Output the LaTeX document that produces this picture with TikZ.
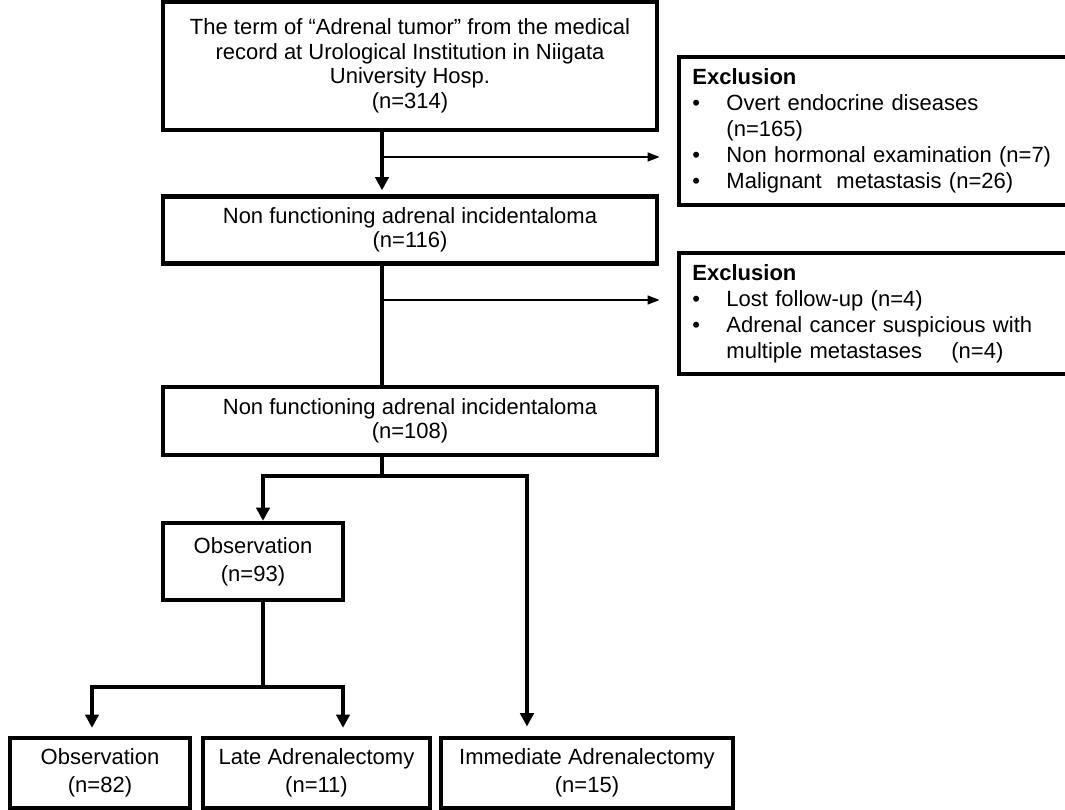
\documentclass[tikz,border=0pt]{standalone}
\usepackage{fontspec}
\setmainfont{Liberation Sans}
\usetikzlibrary{arrows.meta}
\def\pxu{0.75pt}
\tikzset{
  flowbox/.style={draw, line width=3.2pt, align=center, inner sep=0pt,
    font=\fontsize{16.5}{18.4}\selectfont},
  smallbox/.style={flowbox, font=\fontsize{16.5}{20.8}\selectfont},
  exbox/.style={draw, line width=3.2pt, anchor=north west, align=left,
    inner xsep=10pt, inner ysep=0pt, text width=300pt,
    font=\fontsize{16.5}{19.5}\selectfont},
  mainline/.style={line width=3.2pt},
  mainarrow/.style={line width=3.2pt, -{Triangle[width=10pt,length=10pt]}},
  sidearrow/.style={line width=1.6pt, -{Triangle[width=6.5pt,length=9pt]}},
}
\newcommand{\exbul}{\makebox[25.5pt][l]{\textbullet}}
\begin{document}
\begin{tikzpicture}[x=\pxu, y=-\pxu]
  \clip (0,0) rectangle (1065,810);
  % main column
  \node[flowbox, minimum width=494*\pxu, minimum height=128*\pxu] (term) at (410,66)
    {The term of “Adrenal tumor” from the medical\\record at Urological Institution in Niigata\\University Hosp.\\(n=314)};
  \node[flowbox, minimum width=494*\pxu, minimum height=67*\pxu] (nfa) at (410,230)
    {Non functioning adrenal incidentaloma\\(n=116)};
  \node[flowbox, minimum width=494*\pxu, minimum height=68*\pxu] (nfb) at (410,421)
    {Non functioning adrenal incidentaloma\\(n=108)};
  \node[smallbox, minimum width=180*\pxu, minimum height=77*\pxu] (obs) at (253,561.5)
    {Observation\\(n=93)};
  \node[smallbox, minimum width=180*\pxu, minimum height=70*\pxu] (obsend) at (100,773)
    {Observation\\(n=82)};
  \node[smallbox, minimum width=227*\pxu, minimum height=70*\pxu] (late) at (316.5,773)
    {Late Adrenalectomy\\(n=11)};
  \node[smallbox, minimum width=292*\pxu, minimum height=70*\pxu] (immed) at (587,773)
    {Immediate Adrenalectomy\\(n=15)};
  % exclusions
  \node[exbox, minimum height=148*\pxu] (excl1) at (677,55)
    {\textbf{Exclusion}\\
     \exbul Overt endocrine diseases\\
     \hspace*{25.5pt}(n=165)\\
     \exbul Non hormonal examination (n=7)\\
     \exbul Malignant\ \ metastasis (n=26)};
  \node[exbox, minimum height=121*\pxu] (excl2) at (677,251)
    {\textbf{Exclusion}\\
     \exbul Lost follow-up (n=4)\\
     \exbul Adrenal cancer suspicious with\\
     \hspace*{25.5pt}multiple metastases\quad\ (n=4)};
  % branch points
  \coordinate (trunk1) at (382,157);
  \coordinate (trunk2) at (382,300);
  \coordinate (fork1) at (382,476);
  \coordinate (forkL) at (263,476);
  \coordinate (forkR) at (527,476);
  \coordinate (fork2) at (263,687);
  \coordinate (fork2L) at (92,687);
  \coordinate (fork2R) at (343,687);
  % connectors
  \draw[mainarrow, shorten >=3pt] (term.south -| trunk1) -- (nfa.north -| trunk1);
  \draw[sidearrow, shorten >=13pt] (trunk1) -- (trunk1 -| excl1.west);
  \draw[mainline] (nfa.south -| trunk2) -- (nfb.north -| trunk2);
  \draw[sidearrow, shorten >=13pt] (trunk2) -- (trunk2 -| excl2.west);
  \draw[mainline] (nfb.south -| fork1) -- (fork1);
  \draw[mainarrow] (fork1) -- (forkL) -- (obs.north -| forkL);
  \draw[mainarrow, shorten >=7pt] (fork1) -- (forkR) -- (immed.north -| forkR);
  \draw[mainline] (obs.south -| fork2) -- (fork2);
  \draw[mainarrow, shorten >=6pt] (fork2) -- (fork2L) -- (obsend.north -| fork2L);
  \draw[mainarrow, shorten >=6pt] (fork2) -- (fork2R) -- (late.north -| fork2R);
\end{tikzpicture}
\end{document}
